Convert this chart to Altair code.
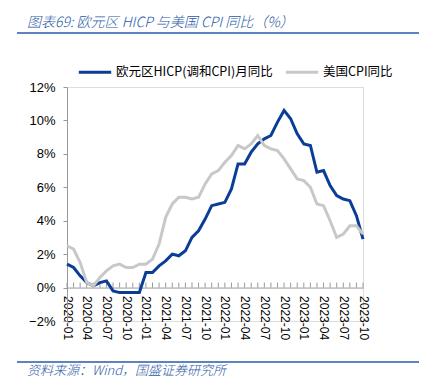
import altair as alt
import pandas as pd

months = [f"{y}-{m:02d}" for y in (2020, 2021, 2022, 2023) for m in range(1, 13)][:46]
hicp = [1.4, 1.2, 0.7, 0.3, 0.1, 0.3, 0.4, -0.2, -0.3, -0.3, -0.3, -0.3,
        0.9, 0.9, 1.3, 1.6, 2.0, 1.9, 2.2, 3.0, 3.4, 4.1, 4.9, 5.0,
        5.1, 5.9, 7.4, 7.4, 8.1, 8.6, 8.9, 9.1, 9.9, 10.6, 10.1, 9.2,
        8.6, 8.5, 6.9, 7.0, 6.1, 5.5, 5.3, 5.2, 4.3, 2.9]
uscpi = [2.5, 2.3, 1.5, 0.3, 0.1, 0.6, 1.0, 1.3, 1.4, 1.2, 1.2, 1.4,
         1.4, 1.7, 2.6, 4.2, 5.0, 5.4, 5.4, 5.3, 5.4, 6.2, 6.8, 7.0,
         7.5, 7.9, 8.5, 8.3, 8.6, 9.1, 8.5, 8.3, 8.2, 7.7, 7.1, 6.5,
         6.4, 6.0, 5.0, 4.9, 4.0, 3.0, 3.2, 3.7, 3.7, 3.2]
series_names = ["欧元区HICP(调和CPI)月同比", "美国CPI同比"]
quarter_labels = [m for m in months if m[5:] in ("01", "04", "07", "10")]
title_text = "图表69:  欧元区 HICP 与美国 CPI 同比（%）"
source_text = "资料来源：Wind，国盛证券研究所"

rows = []
for i, m in enumerate(months):
    rows.append({"month": m, "series": series_names[0], "value": hicp[i] / 100})
    rows.append({"month": m, "series": series_names[1], "value": uscpi[i] / 100})
df = pd.DataFrame(rows)
mdf = pd.DataFrame({"month": months})

W, H = 296, 234
zero_px = H * 12 / 14
BLUE = "#0a3d96"
GRAY = "#c8c8c8"
TXT_BLUE = "#2a5aa8"
FONT = "Liberation Sans"
CJK = "Noto Sans CJK SC"

xscale = alt.Scale(type="point", padding=0, domain=months)
yscale = alt.Scale(domain=[-0.02, 0.12])

lines = alt.Chart(df).mark_line(strokeWidth=3).encode(
    x=alt.X("month:O", scale=xscale, sort=None,
            axis=alt.Axis(title=None, values=quarter_labels, labelAngle=90, labelAlign="left",
                          labelBaseline="middle", ticks=False,
                          offset=-(H - zero_px), domainColor="#999999", labelPadding=8,
                          labelFont=FONT, labelFontSize=12, labelColor="#000000")),
    y=alt.Y("value:Q", scale=yscale,
            axis=alt.Axis(title=None, format=".0%", values=[-0.02, 0, 0.02, 0.04, 0.06, 0.08, 0.10, 0.12],
                          grid=False, tickSize=4, tickColor="#999999", domainColor="#999999",
                          labelFont=FONT, labelFontSize=13, labelColor="#000000", labelPadding=8)),
    color=alt.Color("series:N", sort=series_names,
                    scale=alt.Scale(domain=series_names, range=[BLUE, GRAY]),
                    legend=alt.Legend(title=None, orient="none", direction="horizontal",
                                      legendX=10, legendY=-33, symbolType="stroke",
                                      symbolSize=1050, symbolStrokeWidth=3, labelFont=CJK,
                                      labelFontSize=12.5, labelColor="#000000", columnPadding=6,
                                      labelOffset=3, padding=0, labelLimit=300)),
)

ticks = alt.Chart(mdf).mark_rule(color="#999999", strokeWidth=1).encode(
    x=alt.X("month:O", scale=xscale, sort=None),
    y=alt.value(zero_px - 5),
    y2=alt.value(zero_px),
)

one = alt.Data(values=[{"a": 1}])
title = alt.Chart(one).mark_text(align="left", baseline="middle", fontSize=14, font=CJK,
                                 fontWeight=300, fontStyle="italic", color=TXT_BLUE).encode(
    x=alt.value(-40), y=alt.value(-64), text=alt.value(title_text))
source = alt.Chart(one).mark_text(align="left", baseline="middle", fontSize=13, font=CJK,
                                  fontWeight=300, fontStyle="italic", color=TXT_BLUE).encode(
    x=alt.value(-40), y=alt.value(284), text=alt.value(source_text))
rule_top = alt.Chart(one).mark_rule(color=TXT_BLUE, strokeWidth=1.5).encode(
    x=alt.value(-50), x2=alt.value(357), y=alt.value(-54))
rule_bot = alt.Chart(one).mark_rule(color=TXT_BLUE, strokeWidth=1.5).encode(
    x=alt.value(-50), x2=alt.value(357), y=alt.value(275))

chart = alt.layer(ticks, lines, title, source, rule_top, rule_bot).properties(
    width=W, height=H, autosize="none",
    padding={"left": 59, "top": 79, "right": 56, "bottom": 62},
).configure_view(stroke=None).configure(background="white")

chart.save("out.html", embed_options={"renderer": "svg", "actions": False})
